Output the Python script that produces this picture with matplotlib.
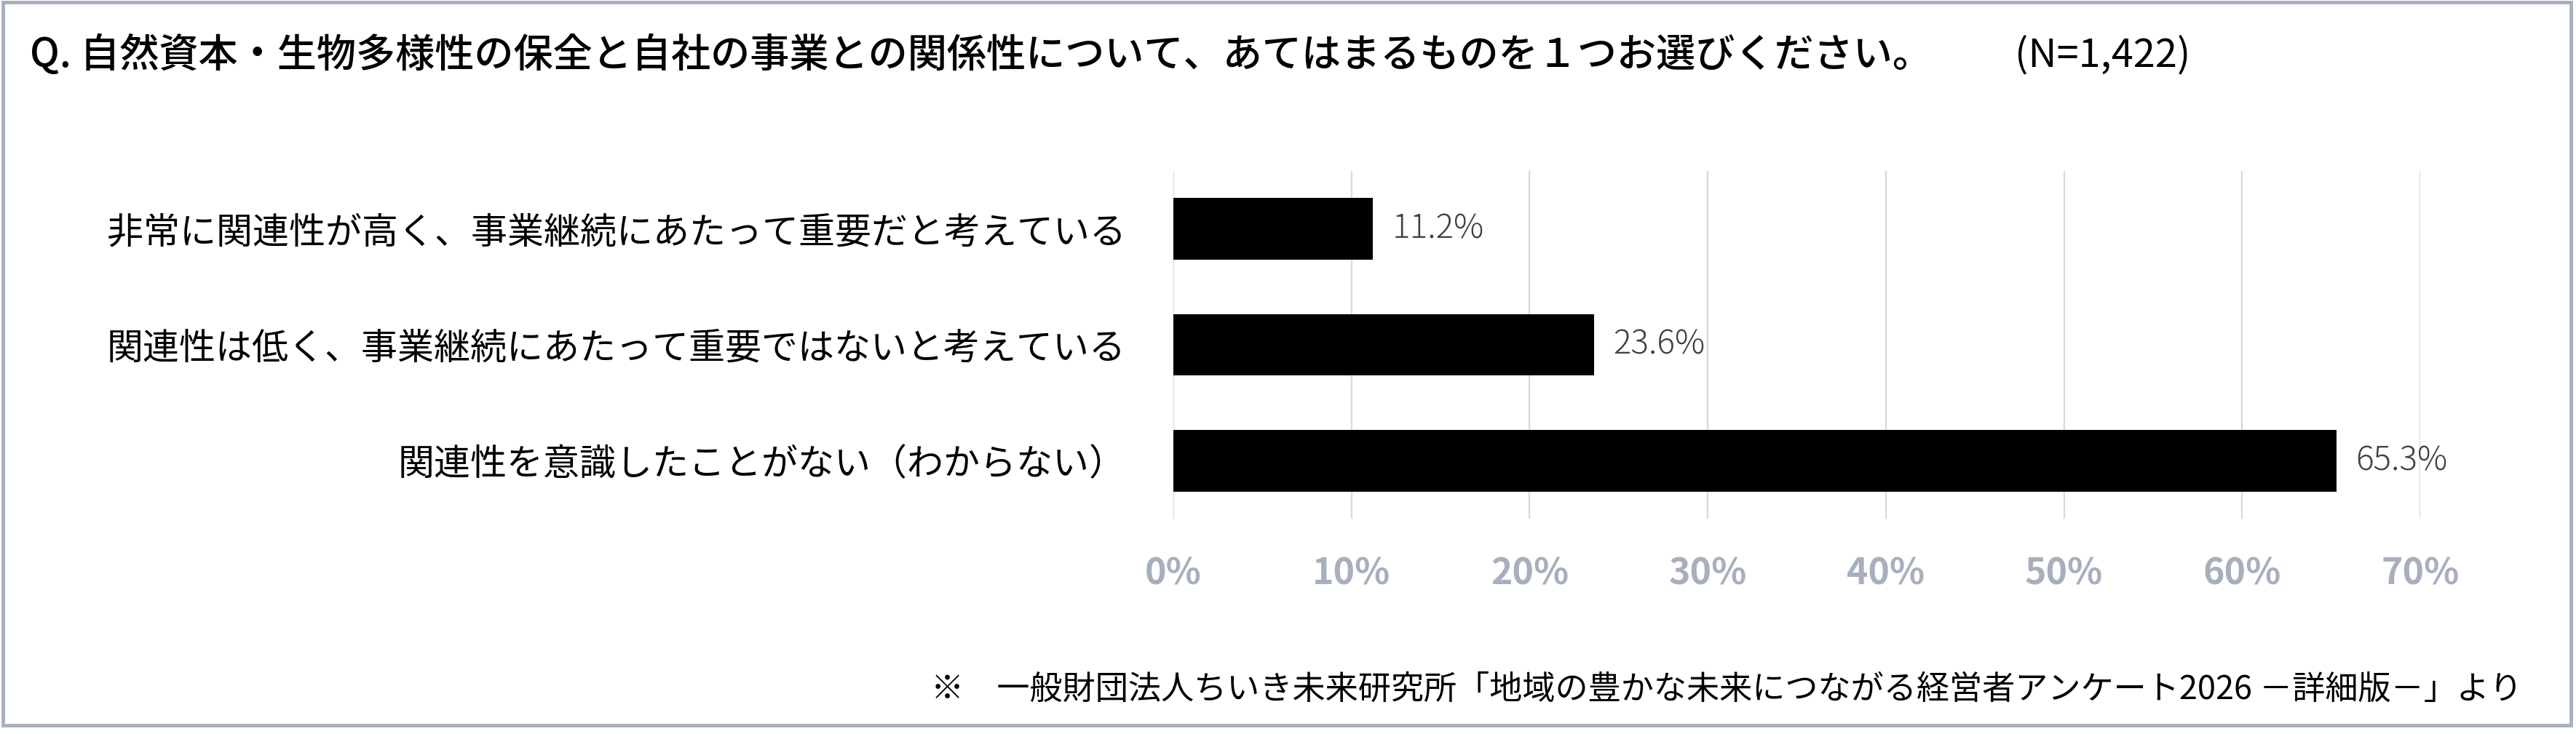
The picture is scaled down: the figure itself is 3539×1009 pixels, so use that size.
import matplotlib
matplotlib.use("Agg")
import matplotlib.pyplot as plt
from matplotlib.patches import Rectangle

plt.rcParams['font.family'] = ['Noto Sans CJK JP', 'DejaVu Sans']

# data
categories = [
    "非常に関連性が高く、事業継続にあたって重要だと考えている",
    "関連性は低く、事業継続にあたって重要ではないと考えている",
    "関連性を意識したことがない（わからない）",
]
values = [11.2, 23.6, 65.3]
xticks = [0, 10, 20, 30, 40, 50, 60, 70]
title = "Q. 自然資本・生物多様性の保全と自社の事業との関係性について、あてはまるものを１つお選びください。"
title_n = "(N=1,422)"
footer = "※　一般財団法人ちいき未来研究所「地域の豊かな未来につながる経営者アンケート2026 －詳細版－」より"

W, H = 3539, 1009
fig = plt.figure(figsize=(W / 100, H / 100), dpi=100)

# outer frame
fig.patches.append(Rectangle((0.001, 0.012), 0.997, 0.985, transform=fig.transFigure,
                             fill=False, edgecolor='#A7AFBF', linewidth=3.5))

ax = fig.add_axes([1612 / W, 1 - 713 / H, (3325 - 1612) / W, (713 - 235) / H])

y = list(range(len(categories)))
ax.barh(y, values, height=0.53, color='black', zorder=3)

ax.set_xlim(0, 70)
ax.set_ylim(2.5, -0.5)
ax.set_xticks(xticks)
ax.set_xticklabels([f"{t}%" for t in xticks], fontsize=36, fontweight='bold', color='#A7AFBF')
ax.set_yticks(y)
ax.set_yticklabels(categories, fontsize=36, color='black')
ax.tick_params(axis='x', length=0, pad=36)
ax.tick_params(axis='y', length=0, pad=47)
ax.grid(axis='x', color='#D9D9D9', linewidth=1.6, zorder=0)
for s in ax.spines.values():
    s.set_visible(False)

for yi, v in zip(y, values):
    ax.annotate(f"{v}%", (v, yi), xytext=(19, 0), textcoords='offset points',
                va='center', ha='left', fontsize=33, color='#404040', fontweight='light')

fig.text(41 / W, 1 - 76 / H, title, fontsize=39, fontweight='medium', va='center', ha='left')
fig.text(2768 / W, 1 - 76 / H, title_n, fontsize=39, va='center', ha='left')
fig.text(3465 / W, 1 - 948 / H, footer, fontsize=32.5, va='center', ha='right')

fig.savefig("out.png", dpi=100)
